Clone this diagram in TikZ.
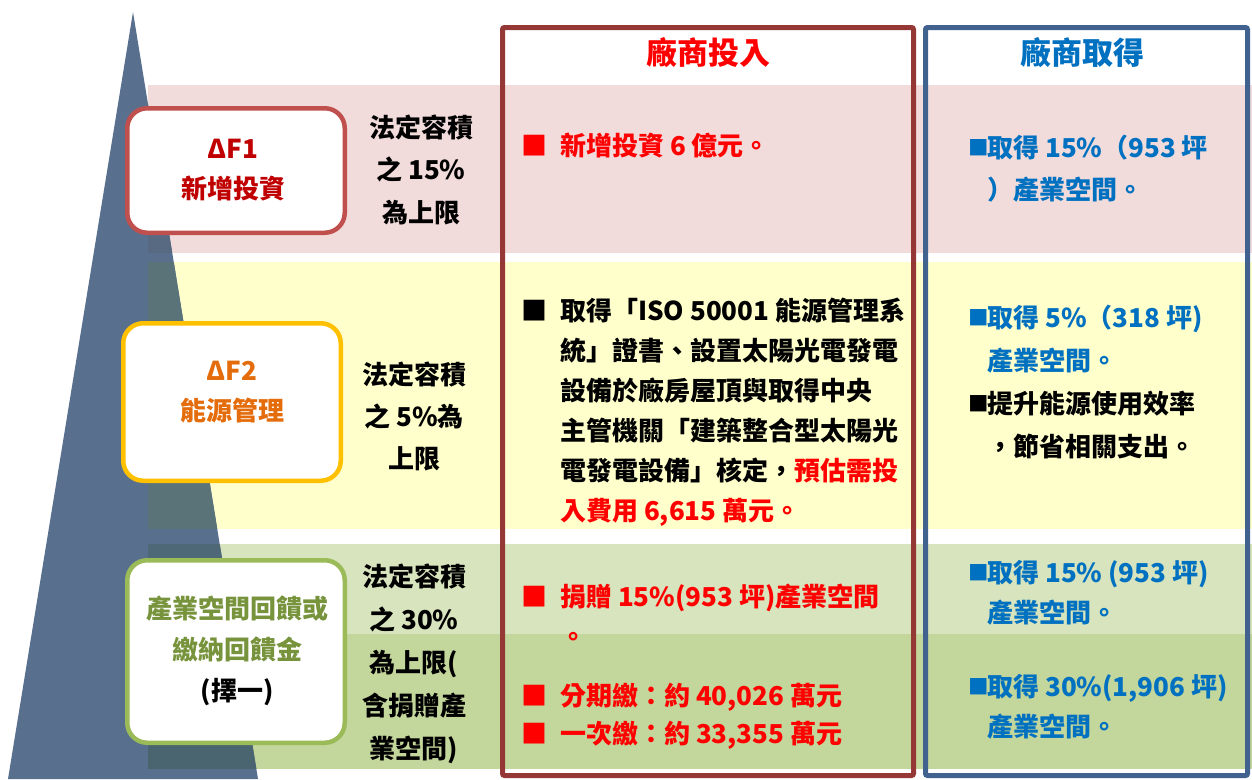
\documentclass[tikz,border=0pt]{standalone}
\usepackage{fontspec}
\setmainfont{Noto Sans CJK TC}
\usetikzlibrary{positioning}

\definecolor{bandpink}{HTML}{F2DCDB}
\definecolor{bandyellow}{HTML}{FFFFCC}
\definecolor{bandlgreen}{HTML}{D7E4BD}
\definecolor{banddgreen}{HTML}{C3D69B}
\definecolor{tricol}{HTML}{586F8D}
\definecolor{tintpink}{HTML}{586A82}
\definecolor{tintyellow}{HTML}{5A7379}
\definecolor{tintlgreen}{HTML}{4F6878}
\definecolor{tintdgreen}{HTML}{4A6470}
\definecolor{framered}{HTML}{953735}
\definecolor{frameblue}{HTML}{41628F}
\definecolor{tagred}{HTML}{C0504D}
\definecolor{tagyellow}{HTML}{FFC000}
\definecolor{taggreen}{HTML}{9BBB59}
\definecolor{f1col}{HTML}{C00000}
\definecolor{f2col}{HTML}{E46C0A}
\definecolor{f3col}{HTML}{77933C}
\definecolor{textred}{HTML}{FF0000}
\definecolor{textblue}{HTML}{0070C0}

\newcommand{\bul}{\makebox[39pt][l]{■}}
\newcommand{\ind}{\hspace*{39pt}}
\newcommand{\sbul}{\makebox[19pt][l]{\raisebox{2pt}{\fontsize{20.5}{21}\selectfont ■}}}
\newcommand{\sind}{\hspace*{19pt}}

\tikzset{
  frame/.style={line width=5pt, rounded corners=2pt},
  tagbox/.style={draw, fill=white, line width=4.5pt, rounded corners=20pt,
    minimum width=217.5pt, inner sep=0pt},
  tagtext/.style={align=center, inner sep=0pt, font=\bfseries\fontsize{26}{40}\selectfont},
  crit/.style={align=center, inner sep=0pt, font=\bfseries\fontsize{26}{42.5}\selectfont},
  item/.style={anchor=west, align=left, inner sep=0pt, font=\bfseries\fontsize{26}{40}\selectfont},
  head/.style={inner sep=0pt, font=\bfseries\fontsize{31}{36}\selectfont}
}

\begin{document}
\begin{tikzpicture}[x=1pt,y=-1pt]
  \useasboundingbox (0,0) rectangle (1252,779);
  % colour bands
  \fill[bandpink] (148,85) rectangle (1252,253);
  \fill[bandyellow] (148,262) rectangle (1252,529);
  \fill[bandlgreen] (148,544) rectangle (1252,634);
  \fill[banddgreen] (148,634) rectangle (1252,769);
  % triangle, darker where the bands cross it
  \fill[tricol] (133,12) -- (258,779) -- (8,779) -- cycle;
  \begin{scope}
    \clip (133,12) -- (258,779) -- (8,779) -- cycle;
    \fill[tintpink] (148,85) rectangle (300,253);
    \fill[tintyellow] (148,262) rectangle (300,529);
    \fill[tintlgreen] (148,544) rectangle (300,634);
    \fill[tintdgreen] (148,634) rectangle (300,769);
  \end{scope}
  % column frames
  \draw[frame, framered] (502.5,27.5) rectangle (913.5,775.5);
  \draw[frame, frameblue] (925.5,27.5) rectangle (1247.5,775.5);
  \node[head, textred] (hdin) at (708,53) {廠商投入};
  \node[head, textblue] (hdout) at (1082,53) {廠商取得};

  % left tags
  \node[tagbox, draw=tagred, minimum height=124.5pt] (f1box) at (236,170.5) {};
  \node[tagtext, f1col] (f1txt) at (233,170) {ΔF1\\新增投資};
  \node[tagbox, draw=tagyellow, minimum height=157.5pt] (f2box) at (232,402) {};
  \node[tagtext, f2col] (f2txt) at ([yshift=10pt]f2box.center) {ΔF2\\能源管理};
  \node[tagbox, draw=taggreen, minimum height=182.5pt] (f3box) at (236,651.5) {};
  \node[tagtext, f3col, font=\bfseries\fontsize{26}{41}\selectfont] (f3txt) at (237,651)
    {產業空間回饋或\\繳納回饋金\\\textcolor{black}{(擇一)}};

  % limits
  \node[crit] (crit1) at (421,169.5) {法定容積\\之 15\%\\為上限};
  \node[crit, font=\bfseries\fontsize{26}{42}\selectfont] (crit2) at (414,416) {法定容積\\之 5\%為\\上限};
  \node[crit, font=\bfseries\fontsize{26}{43}\selectfont] (crit3) at (414,664)
    {法定容積\\之 30\%\\為上限(\\含捐贈產\\業空間)};

  % investment column
  \node[item, textred] (inv1) at (521,146) {\bul 新增投資 6 億元。};
  \node[item] (inv2) at (521,412) {\bul 取得「ISO 50001 能源管理系\\
    \ind 統」證書、設置太陽光電發電\\
    \ind 設備於廠房屋頂與取得中央\\
    \ind 主管機關「建築整合型太陽光\\
    \ind 電發電設備」核定，\textcolor{textred}{預估需投}\\
    \ind \textcolor{textred}{入費用 6,615 萬元。}};
  \node[item, textred] (inv3) at (521,615) {\bul 捐贈 15\%(953 坪)產業空間\\\ind 。};
  \node[item, textred, font=\bfseries\fontsize{26}{38}\selectfont] (inv4) at (521,716)
    {\bul 分期繳：約 40,026 萬元\\\bul 一次繳：約 33,355 萬元};

  % gain column
  \node[item, textblue, font=\bfseries\fontsize{26}{42}\selectfont] (get1) at (968,169)
    {\sbul 取得 15\%（953 坪\\\sind ）產業空間。};
  \node[item, textblue, font=\bfseries\fontsize{26}{43}\selectfont] (get2) at (968,382)
    {\sbul 取得 5\%（318 坪)\\\sind 產業空間。\\
     \textcolor{black}{\sbul 提升能源使用效率}\\\sind \textcolor{black}{，節省相關支出。}};
  \node[item, textblue] (get3) at (968,593) {\sbul 取得 15\% (953 坪)\\\sind 產業空間。};
  \node[item, textblue] (get4) at (968,707) {\sbul 取得 30\%(1,906 坪)\\\sind 產業空間。};
\end{tikzpicture}
\end{document}
